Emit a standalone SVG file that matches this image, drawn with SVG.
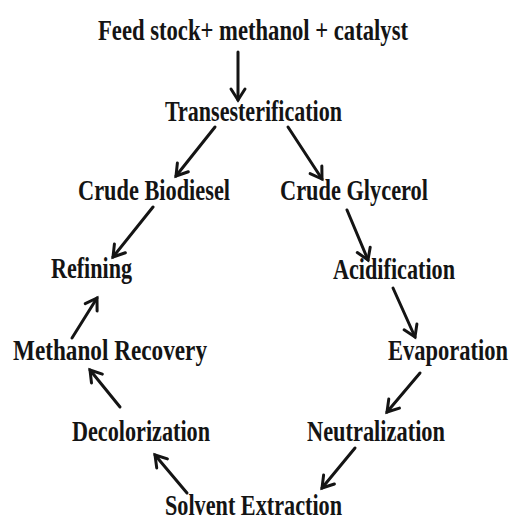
<svg xmlns="http://www.w3.org/2000/svg" width="513" height="521" viewBox="0 0 513 521">
  <style>
    .lbl { font-family: "Liberation Serif", "Times New Roman", serif; font-weight: bold; font-size: 30px; fill: #141414; }
    .arr { stroke: #141414; stroke-width: 3; fill: none; stroke-linecap: round; marker-end: url(#head); }
  </style>
  <defs>
    <marker id="head" markerUnits="userSpaceOnUse" markerWidth="20" markerHeight="20" refX="0" refY="0" viewBox="-14 -10 16 20" orient="auto">
      <path d="M-11,-7 L0,0 L-11,7" fill="none" stroke="#141414" stroke-width="3" stroke-linejoin="miter" stroke-linecap="round"/>
    </marker>
  </defs>
  <rect width="513" height="521" fill="#ffffff"/>

  <g id="connectors">
    <line class="arr" x1="238" y1="52" x2="238" y2="100"/>
    <line class="arr" x1="215" y1="127" x2="176" y2="176"/>
    <line class="arr" x1="288" y1="127" x2="322" y2="179"/>
    <line class="arr" x1="153" y1="207" x2="113" y2="257"/>
    <line class="arr" x1="347" y1="210" x2="368" y2="260"/>
    <line class="arr" x1="72" y1="338" x2="97" y2="298"/>
    <line class="arr" x1="393" y1="288" x2="415" y2="337"/>
    <line class="arr" x1="120" y1="407" x2="90" y2="370"/>
    <line class="arr" x1="420" y1="373" x2="387" y2="412"/>
    <line class="arr" x1="187" y1="493" x2="155" y2="455"/>
    <line class="arr" x1="355" y1="448" x2="322" y2="488"/>
  </g>

  <g id="feedstock"><text class="lbl" x="98" y="40" textLength="310" lengthAdjust="spacingAndGlyphs">Feed stock+ methanol + catalyst</text></g>
  <g id="transesterification"><text class="lbl" x="165" y="121" textLength="177" lengthAdjust="spacingAndGlyphs">Transesterification</text></g>
  <g id="crude-biodiesel"><text class="lbl" x="78" y="200" textLength="152" lengthAdjust="spacingAndGlyphs">Crude Biodiesel</text></g>
  <g id="crude-glycerol"><text class="lbl" x="280" y="200" textLength="148" lengthAdjust="spacingAndGlyphs">Crude Glycerol</text></g>
  <g id="refining"><text class="lbl" x="51" y="278" textLength="81" lengthAdjust="spacingAndGlyphs">Refining</text></g>
  <g id="acidification"><text class="lbl" x="333" y="279" textLength="122" lengthAdjust="spacingAndGlyphs">Acidification</text></g>
  <g id="methanol-recovery"><text class="lbl" x="13" y="360" textLength="194" lengthAdjust="spacingAndGlyphs">Methanol Recovery</text></g>
  <g id="evaporation" transform="translate(388,360) scale(0.75,1)"><text class="lbl" x="0" y="0">Evaporation</text></g>
  <g id="decolorization"><text class="lbl" x="72" y="441" textLength="138" lengthAdjust="spacingAndGlyphs">Decolorization</text></g>
  <g id="neutralization"><text class="lbl" x="307" y="441" textLength="138" lengthAdjust="spacingAndGlyphs">Neutralization</text></g>
  <g id="solvent-extraction"><text class="lbl" x="165" y="515" textLength="177" lengthAdjust="spacingAndGlyphs">Solvent Extraction</text></g>
</svg>
